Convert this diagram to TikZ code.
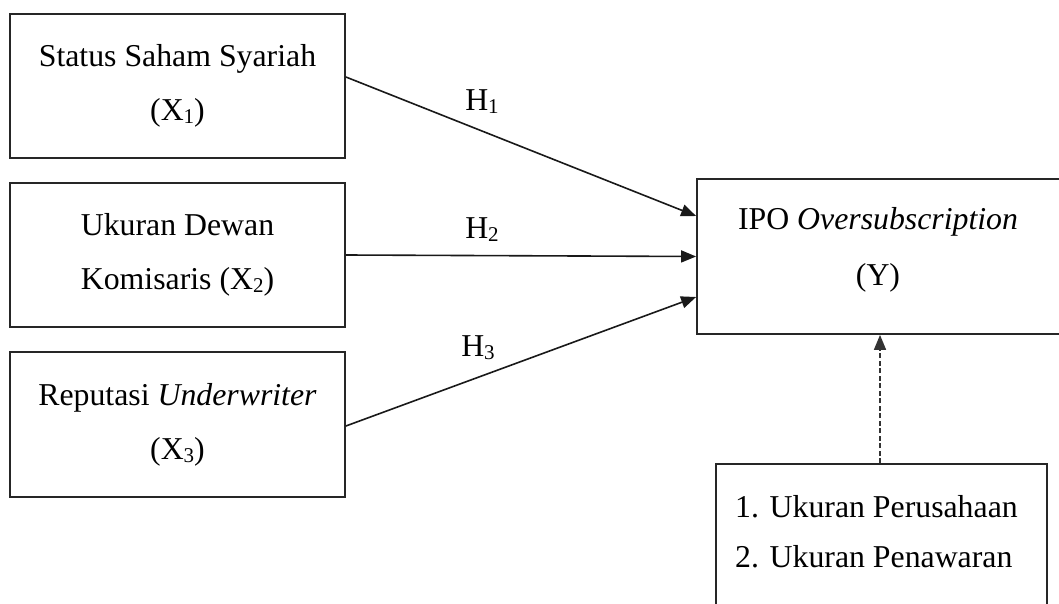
\documentclass[tikz,border=0pt]{standalone}
\usepackage{fontspec}
\setmainfont{Liberation Serif}
\usetikzlibrary{arrows.meta,calc}
\newcommand{\subdig}[1]{{\fontsize{21}{21}\selectfont\raisebox{-0.15em}{#1}}}
\tikzset{
  box/.style={draw=black!85, line width=1.8pt, inner sep=0pt, align=center, font=\fontsize{31.8}{54}\selectfont},
  lbl/.style={inner sep=0pt, font=\fontsize{31.8}{36}\selectfont},
  conn/.style={line width=1.6pt, draw=black!90, -{Triangle[length=15pt,width=12pt]}},
  dconn/.style={line width=1.6pt, draw=black!80, dash pattern=on 5pt off 2.5pt, -{Triangle[length=15pt,width=12pt]}}
}
\begin{document}
\begin{tikzpicture}[x=1pt,y=-1pt]
\useasboundingbox (0,0) rectangle (1059,604);
\clip (0,0) rectangle (1059,604);
\fill[white] (0,0) rectangle (1059,604);
\node[box, minimum width=335pt, minimum height=144pt] (b1) at (177.5,86) {Status Saham Syariah\\(X\subdig{1})};
\node[box, minimum width=335pt, minimum height=144pt] (b2) at (177.5,255) {Ukuran Dewan\\Komisaris (X\subdig{2})};
\node[box, minimum width=335pt, minimum height=145pt] (b3) at (177.5,424.5) {Reputasi \textit{Underwriter}\\(X\subdig{3})};
\node[box, minimum width=368pt, minimum height=155pt] (y) at (881,256.5) {};
\node[lbl, align=center, font=\fontsize{31.8}{56}\selectfont] (yt) at (878,250) {IPO \textit{Oversubscription}\\(Y)};
\node[box, minimum width=331pt, minimum height=200pt, anchor=north] (bot) at (881.5,463) {};
\node[lbl, anchor=west, align=left, font=\fontsize{31.8}{50}\selectfont] (bott) at (735,532) {1. Ukuran Perusahaan\\2. Ukuran Penawaran};
\node[lbl] (h1) at (482,102) {H\subdig{1}};
\node[lbl] (h2) at (482,230) {H\subdig{2}};
\node[lbl] (h3) at (478,348) {H\subdig{3}};
\draw[conn] ([yshift=9pt]b1.east) -- ([yshift=40.5pt]y.west);
\draw[conn] (b2.east) -- (y.west);
\draw[conn] ([yshift=-1.5pt]b3.east) -- ([yshift=-40.5pt]y.west);
\draw[dconn] (bot.north -| 880,0) -- (y.south -| 880,0);
\end{tikzpicture}
\end{document}
